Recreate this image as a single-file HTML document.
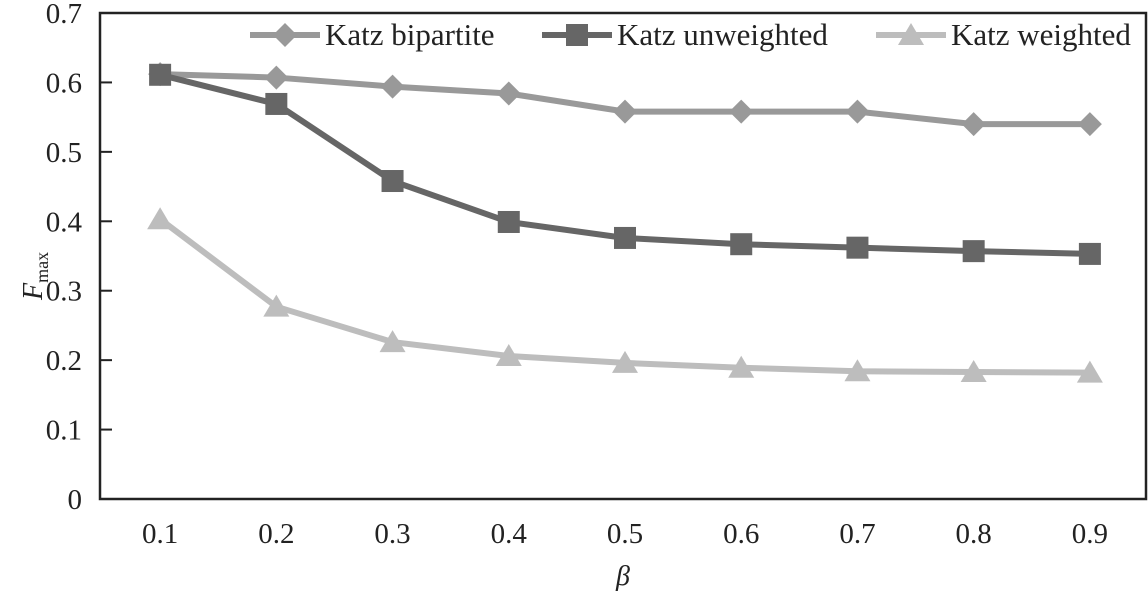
<!DOCTYPE html>
<html><head><meta charset="utf-8"><style>
body{margin:0;background:#fff;}
svg text{font-family:"Liberation Serif",serif;fill:#222;}
</style></head><body>
<svg id="chart" width="1148" height="595" viewBox="0 0 1148 595">
<rect x="100" y="13" width="1046" height="486" fill="none" stroke="#222" stroke-width="2.5"/>
<g id="yaxis"></g>
<g id="xaxis"></g>
<g id="series"></g>
<text transform="translate(42,300) rotate(-90)" font-size="28" font-style="italic">F<tspan font-size="18" font-style="normal" dy="6">max</tspan></text>
<text x="623" y="585" font-size="28" font-style="italic" text-anchor="middle">β</text>
<g id="legend"></g>
</svg>
<script>
const categories=["0.1","0.2","0.3","0.4","0.5","0.6","0.7","0.8","0.9"];
const yTicks=[0,0.1,0.2,0.3,0.4,0.5,0.6,0.7];
const yTickLabels=["0","0.1","0.2","0.3","0.4","0.5","0.6","0.7"];
const bipartite=[0.612,0.607,0.594,0.584,0.558,0.558,0.558,0.540,0.540];
const unweighted=[0.611,0.569,0.458,0.399,0.376,0.367,0.362,0.357,0.353];
const weighted=[0.403,0.277,0.226,0.206,0.196,0.189,0.184,0.183,0.182];
const seriesNames=["Katz bipartite","Katz unweighted","Katz weighted"];

const NS="http://www.w3.org/2000/svg";
const L=100,R=1146,T=13,B=499,yMax=0.7;
const y=v=>B-(v/yMax)*(B-T);
const bw=(R-L)/categories.length;
const x=i=>L+2+bw*(i+0.5);
function mk(tag,attrs,parent){const e=document.createElementNS(NS,tag);for(const k in attrs)e.setAttribute(k,attrs[k]);parent.appendChild(e);return e;}
const ya=document.getElementById('yaxis'),xa=document.getElementById('xaxis'),sg=document.getElementById('series'),lg=document.getElementById('legend');
yTicks.forEach((v,i)=>{
  const t=mk('line',{x1:L,x2:L+12,y1:y(v),y2:y(v),stroke:'#222','stroke-width':2},ya);
  
  
  const tx=mk('text',{x:82,y:y(v)+10,'font-size':29,'text-anchor':'end'},ya);
  tx.textContent=yTickLabels[i];
  
  
});
categories.forEach((c,i)=>{
  const tx=mk('text',{x:x(i),y:543,'font-size':29,'text-anchor':'middle'},xa);
  tx.textContent=c;
  
  
});
function marker(type,cx,cy,color,parent){
  let e;
  if(type==='diamond')e=mk('polygon',{points:`${cx},${cy-12} ${cx+12},${cy} ${cx},${cy+12} ${cx-12},${cy}`,fill:color},parent);
  else if(type==='square')e=mk('rect',{x:cx-11,y:cy-11,width:22,height:22,fill:color},parent);
  else e=mk('polygon',{points:`${cx},${cy-12} ${cx+13},${cy+10} ${cx-13},${cy+10}`,fill:color},parent);
  return e;
}
const defs=[[bipartite,'#999999','diamond'],[unweighted,'#666666','square'],[weighted,'#bdbdbd','triangle']];
defs.forEach(([data,color,type],si)=>{
  const g=mk('g',{},sg);
  
  
  const p=mk('polyline',{points:data.map((v,i)=>x(i)+','+y(v)).join(' '),fill:'none',stroke:color,'stroke-width':6},g);
  
  
  data.forEach((v,i)=>{
    const m=marker(type,x(i),y(v),color,g);
    
    
  });
});
const legX=[250,542,876];
defs.forEach(([d,color,type],si)=>{
  const g=mk('g',{},lg);
  
  
  mk('line',{x1:legX[si],x2:legX[si]+70,y1:35,y2:35,stroke:color,'stroke-width':6},g);
  marker(type,legX[si]+35,35,color,g);
  const t=mk('text',{x:legX[si]+75,y:45,'font-size':31},g);
  t.textContent=seriesNames[si];
});
</script>
</body></html>
